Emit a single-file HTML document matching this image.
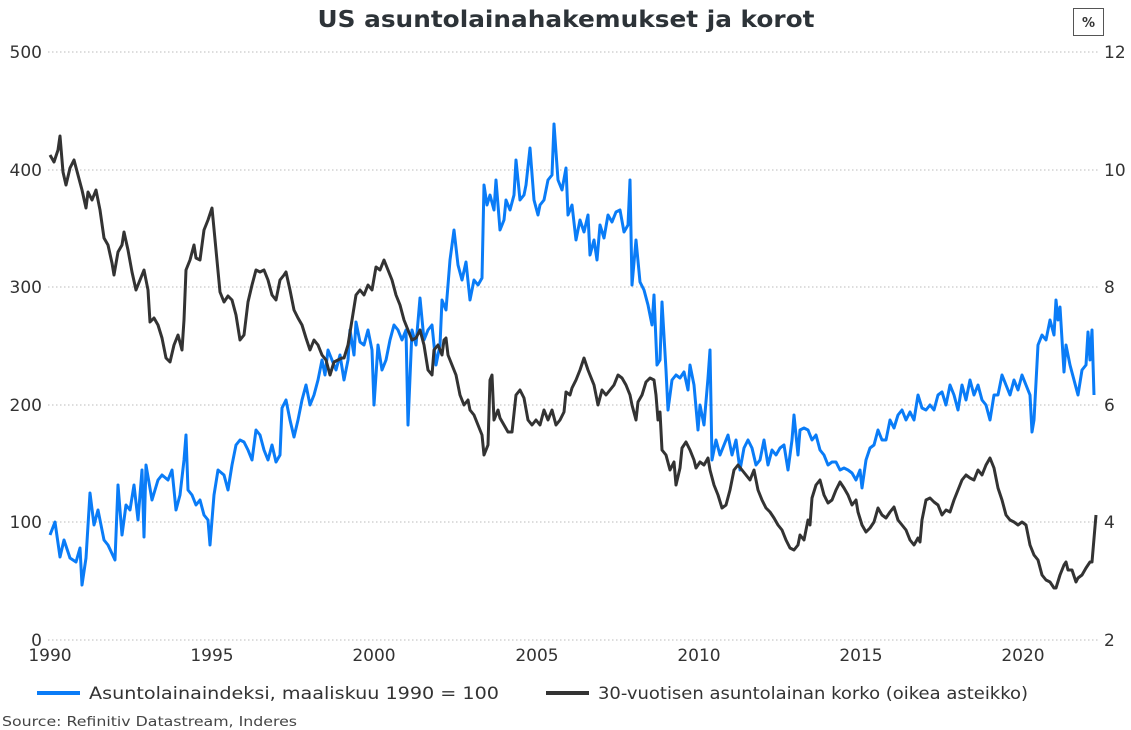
<!DOCTYPE html>
<html><head><meta charset="utf-8"><style>
html,body{margin:0;padding:0;background:#fff;}
svg{display:block;font-family:"DejaVu Sans","Liberation Sans",sans-serif;}
</style></head><body>
<svg width="1131" height="730" viewBox="0 0 1131 730" xmlns="http://www.w3.org/2000/svg">
<text x="566" y="27" text-anchor="middle" font-size="23" font-weight="bold" fill="#2d3338" textLength="497" lengthAdjust="spacingAndGlyphs">US asuntolainahakemukset ja korot</text>
<rect x="1073.5" y="8.5" width="30" height="27" fill="#fff" stroke="#555" stroke-width="1"/>
<text x="1088.5" y="27" text-anchor="middle" font-size="13" font-weight="bold" fill="#333">%</text>
<g stroke="#bbb" stroke-width="1" stroke-dasharray="1.5,2.5">
<line x1="48" x2="1100" y1="52" y2="52"/><line x1="48" x2="1100" y1="170" y2="170"/><line x1="48" x2="1100" y1="287" y2="287"/><line x1="48" x2="1100" y1="405" y2="405"/><line x1="48" x2="1100" y1="522" y2="522"/><line x1="48" x2="1100" y1="640" y2="640"/>
</g>
<g font-size="17" fill="#333" text-anchor="end">
<text x="42" y="58">500</text><text x="42" y="176">400</text><text x="42" y="293">300</text><text x="42" y="411">200</text><text x="42" y="528">100</text><text x="42" y="646">0</text>
</g>
<g font-size="17" fill="#333" text-anchor="start">
<text x="1104" y="58">12</text><text x="1104" y="176">10</text><text x="1104" y="293">8</text><text x="1104" y="411">6</text><text x="1104" y="528">4</text><text x="1104" y="646">2</text>
</g>
<g font-size="17" fill="#333" text-anchor="middle">
<text x="50" y="661">1990</text><text x="212" y="661">1995</text><text x="374" y="661">2000</text><text x="537" y="661">2005</text><text x="699" y="661">2010</text><text x="861" y="661">2015</text><text x="1023" y="661">2020</text>
</g>
<polyline fill="none" stroke="#0a7cf7" stroke-width="3" stroke-linejoin="round" points="50,535 55,522 60,557 64,540 70,558 76,562 80,548 82,585 86,558 90,493 94,525 98,510 104,540 108,545 115,560 118,485 122,535 126,505 130,510 134,485 138,520 142,470 144,537 146,465 152,500 158,480 162,475 168,480 172,470 176,510 180,495 184,460 186,435 188,490 192,495 196,505 200,500 204,515 208,520 210,545 214,495 218,470 224,475 228,490 232,465 236,445 240,440 244,442 248,450 252,460 256,430 260,435 264,450 268,460 272,445 276,462 280,455 282,408 286,400 290,420 294,437 298,420 302,400 306,385 310,405 314,395 318,380 322,360 325,375 328,350 332,360 336,370 340,355 344,380 348,360 350,330 354,355 356,322 360,342 364,345 368,330 372,350 374,405 378,345 382,370 386,360 390,340 394,325 398,330 402,340 406,330 408,425 412,330 416,345 420,298 424,340 428,330 432,325 436,365 440,345 442,300 446,310 450,260 454,230 458,265 462,280 466,262 470,300 474,280 478,285 482,278 484,185 487,205 490,195 494,210 496,180 500,230 504,220 506,200 510,210 514,195 516,160 520,200 524,195 526,185 530,148 534,200 538,215 540,205 544,200 548,180 552,175 554,124 558,180 562,190 566,168 568,215 572,205 576,240 580,220 584,232 588,215 590,255 594,240 597,260 600,225 604,238 608,215 612,222 616,212 620,210 624,232 628,225 630,180 632,285 636,240 640,282 644,290 648,305 652,325 654,295 657,365 660,360 662,302 666,370 668,410 672,380 676,375 680,378 684,372 688,390 690,365 694,385 698,430 700,405 704,425 708,378 710,350 712,460 716,440 720,455 724,445 728,435 732,455 736,440 740,470 744,448 748,440 752,448 756,465 760,460 764,440 768,465 772,450 776,455 780,448 784,445 788,470 792,440 794,415 798,455 800,430 804,428 808,430 812,440 816,435 820,450 824,455 828,465 832,462 836,462 840,470 844,468 848,470 852,473 856,480 860,470 862,488 866,460 870,448 874,445 878,430 882,440 886,440 890,420 894,428 898,415 902,410 906,420 910,412 914,420 918,395 922,408 926,410 930,405 934,410 938,395 942,392 946,405 950,385 954,395 958,410 962,385 966,400 970,380 974,395 978,385 982,400 986,405 990,420 994,395 998,395 1002,375 1006,385 1010,395 1014,380 1018,390 1022,375 1026,385 1030,395 1032,432 1034,420 1038,345 1042,335 1046,340 1050,320 1054,335 1056,300 1058,320 1060,307 1064,372 1066,345 1070,365 1074,380 1078,395 1082,370 1086,365 1088,332 1090,360 1092,330 1094,395"/>
<polyline fill="none" stroke="#333" stroke-width="3" stroke-linejoin="round" points="50,155 54,162 58,150 60,136 63,172 66,185 70,168 74,160 78,175 82,190 86,208 88,192 92,200 96,190 100,210 104,238 108,245 112,263 114,275 118,252 122,245 124,232 128,250 132,272 136,290 140,280 144,270 148,290 150,322 154,318 158,325 162,338 166,358 170,362 174,345 178,335 182,350 184,320 186,270 190,260 194,245 196,258 200,260 204,230 208,220 212,208 216,250 220,292 224,302 228,296 232,300 236,315 240,340 244,335 248,302 252,285 256,270 260,272 264,270 268,280 272,295 276,300 280,280 284,275 286,272 290,290 294,310 298,318 302,325 306,338 310,350 314,340 318,345 322,355 326,360 330,375 334,362 338,360 342,358 344,358 348,345 352,320 356,295 360,290 364,295 368,285 372,290 376,267 380,270 384,260 388,270 392,280 396,295 400,305 404,320 408,330 412,340 416,338 420,330 424,345 428,370 432,375 434,350 438,345 442,355 444,340 446,338 448,355 452,365 456,375 460,395 464,405 468,400 470,410 474,415 478,425 482,435 484,455 488,445 490,380 492,375 494,420 498,410 500,418 504,425 508,432 512,432 516,395 520,390 524,398 528,420 532,425 536,420 540,425 544,410 548,420 552,410 556,425 560,420 564,412 566,392 570,395 572,388 576,380 580,370 584,358 588,370 590,375 594,385 598,405 602,390 606,395 610,390 614,385 618,375 622,378 626,385 630,395 632,405 636,420 638,402 642,395 646,382 650,378 654,380 656,395 658,420 660,412 662,450 666,455 670,470 674,462 676,485 680,468 682,448 686,442 690,450 694,460 696,468 700,462 704,465 708,458 710,470 714,485 718,495 722,508 726,505 730,490 734,470 738,465 742,470 746,475 750,480 754,470 758,490 762,500 766,508 770,512 774,518 778,525 782,530 786,540 790,548 794,550 798,545 800,535 804,540 808,520 810,525 812,498 816,485 820,480 824,495 828,503 832,500 836,490 840,482 844,488 848,495 852,505 856,500 858,512 862,525 866,532 870,528 874,522 878,508 882,515 886,518 890,512 894,507 898,520 902,525 906,530 910,540 914,545 918,538 920,542 922,520 926,500 930,498 934,502 938,505 942,515 946,510 950,512 954,500 958,490 962,480 966,475 970,478 974,480 978,470 982,475 986,465 990,458 994,468 998,488 1002,500 1006,515 1010,520 1014,522 1018,525 1022,522 1026,525 1030,545 1034,555 1038,560 1042,575 1046,580 1050,582 1054,588 1056,588 1060,575 1064,565 1066,562 1068,570 1072,570 1076,582 1078,578 1082,575 1086,568 1090,562 1092,562 1096,515"/>
<line x1="37" x2="80" y1="693" y2="693" stroke="#0a7cf7" stroke-width="4"/>
<text x="89" y="699" font-size="17" fill="#333" textLength="410" lengthAdjust="spacingAndGlyphs">Asuntolainaindeksi, maaliskuu 1990 = 100</text>
<line x1="546" x2="589" y1="693" y2="693" stroke="#333" stroke-width="4"/>
<text x="598" y="699" font-size="17" fill="#333" textLength="430" lengthAdjust="spacingAndGlyphs">30-vuotisen asuntolainan korko (oikea asteikko)</text>
<text x="2" y="726" font-size="13" fill="#444" textLength="295" lengthAdjust="spacingAndGlyphs">Source: Refinitiv Datastream, Inderes</text>
</svg>
</body></html>
